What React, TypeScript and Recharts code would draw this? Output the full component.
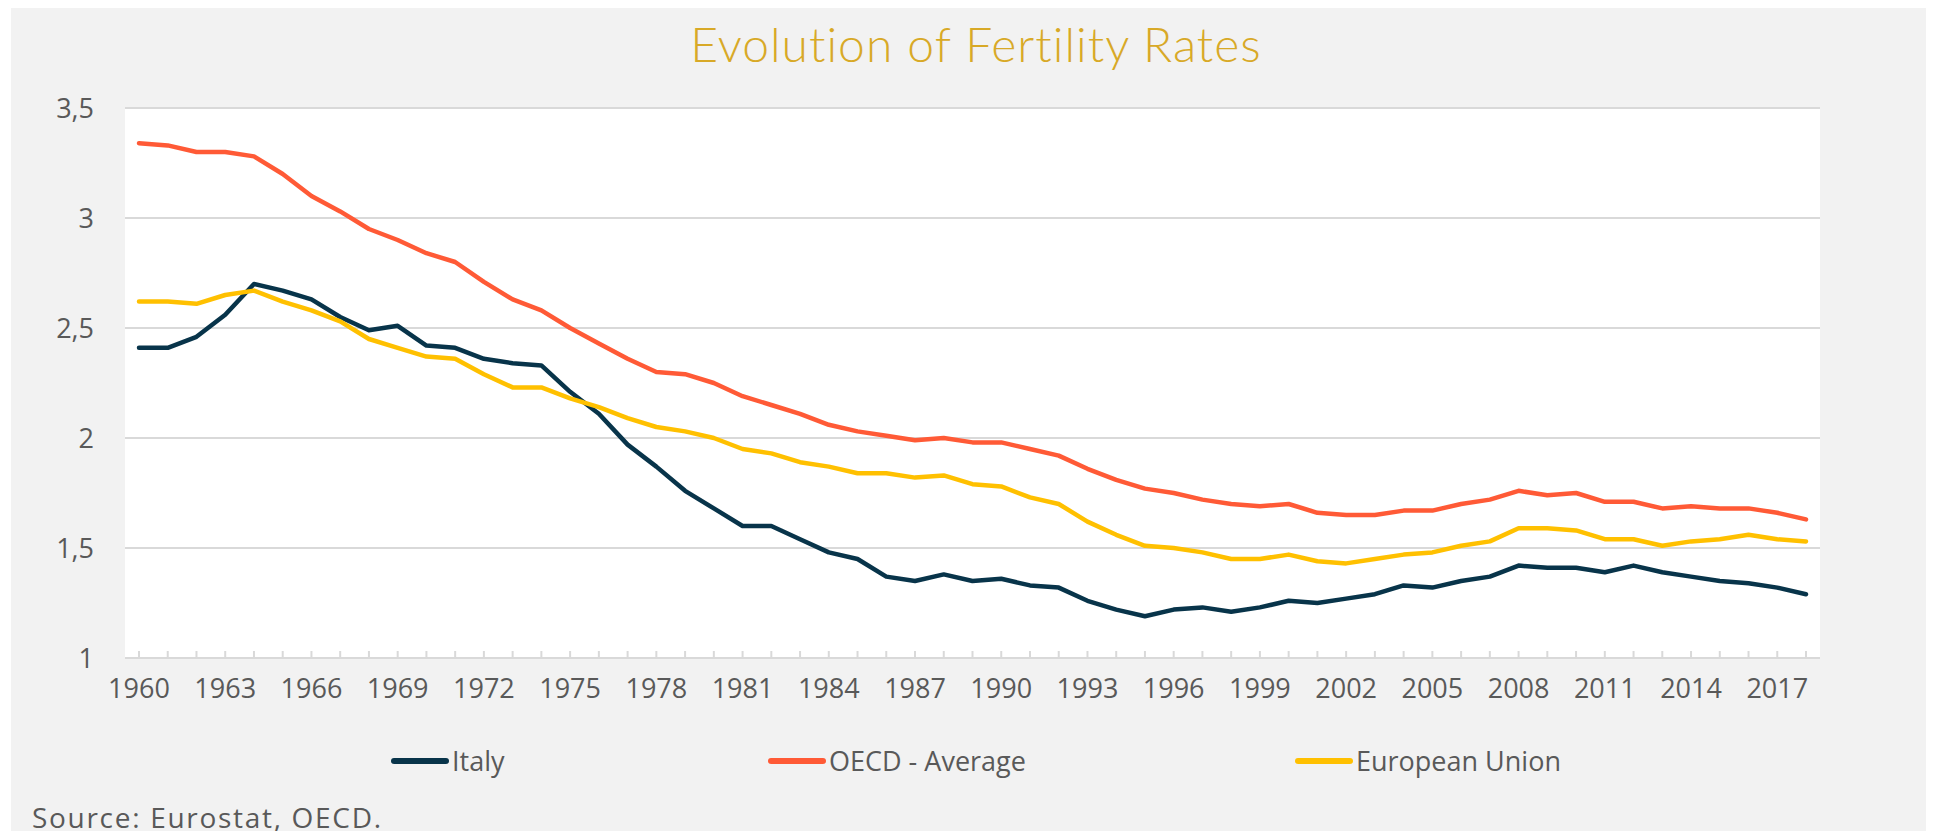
import React from "react";
import { LineChart, Line, XAxis, YAxis, CartesianGrid, Legend } from "recharts";

const years: number[] = [
  1960, 1961, 1962, 1963, 1964, 1965, 1966, 1967, 1968, 1969,
  1970, 1971, 1972, 1973, 1974, 1975, 1976, 1977, 1978, 1979,
  1980, 1981, 1982, 1983, 1984, 1985, 1986, 1987, 1988, 1989,
  1990, 1991, 1992, 1993, 1994, 1995, 1996, 1997, 1998, 1999,
  2000, 2001, 2002, 2003, 2004, 2005, 2006, 2007, 2008, 2009,
  2010, 2011, 2012, 2013, 2014, 2015, 2016, 2017, 2018,
];

const italy: number[] = [
  2.41, 2.41, 2.46, 2.56, 2.70, 2.67, 2.63, 2.55, 2.49, 2.51,
  2.42, 2.41, 2.36, 2.34, 2.33, 2.21, 2.11, 1.97, 1.87, 1.76,
  1.68, 1.60, 1.60, 1.54, 1.48, 1.45, 1.37, 1.35, 1.38, 1.35,
  1.36, 1.33, 1.32, 1.26, 1.22, 1.19, 1.22, 1.23, 1.21, 1.23,
  1.26, 1.25, 1.27, 1.29, 1.33, 1.32, 1.35, 1.37, 1.42, 1.41,
  1.41, 1.39, 1.42, 1.39, 1.37, 1.35, 1.34, 1.32, 1.29,
];

const oecd: number[] = [
  3.34, 3.33, 3.30, 3.30, 3.28, 3.20, 3.10, 3.03, 2.95, 2.90,
  2.84, 2.80, 2.71, 2.63, 2.58, 2.50, 2.43, 2.36, 2.30, 2.29,
  2.25, 2.19, 2.15, 2.11, 2.06, 2.03, 2.01, 1.99, 2.00, 1.98,
  1.98, 1.95, 1.92, 1.86, 1.81, 1.77, 1.75, 1.72, 1.70, 1.69,
  1.70, 1.66, 1.65, 1.65, 1.67, 1.67, 1.70, 1.72, 1.76, 1.74,
  1.75, 1.71, 1.71, 1.68, 1.69, 1.68, 1.68, 1.66, 1.63,
];

const eu: number[] = [
  2.62, 2.62, 2.61, 2.65, 2.67, 2.62, 2.58, 2.53, 2.45, 2.41,
  2.37, 2.36, 2.29, 2.23, 2.23, 2.18, 2.14, 2.09, 2.05, 2.03,
  2.00, 1.95, 1.93, 1.89, 1.87, 1.84, 1.84, 1.82, 1.83, 1.79,
  1.78, 1.73, 1.70, 1.62, 1.56, 1.51, 1.50, 1.48, 1.45, 1.45,
  1.47, 1.44, 1.43, 1.45, 1.47, 1.48, 1.51, 1.53, 1.59, 1.59,
  1.58, 1.54, 1.54, 1.51, 1.53, 1.54, 1.56, 1.54, 1.53,
];

const yTicks: number[] = [1, 1.5, 2, 2.5, 3, 3.5];

const seriesNames = ["Italy", "OECD - Average", "European Union"];
const seriesKeys = ["italy", "oecd", "eu"];
const seriesColors = ["#08344A", "#FF5A36", "#FFC000"];

const title = "Evolution of Fertility Rates";
const source = "Source: Eurostat, OECD.";

const data = years.map((y, i) => ({
  year: String(y),
  italy: italy[i],
  oecd: oecd[i],
  eu: eu[i],
}));

const TEXT = "#595959";
const GRID = "#D9D9D9";
const FONT = "'Open Sans', 'Noto Sans', sans-serif";

const legendLefts = [391, 768, 1295];

function XTick(props: any) {
  const { x, y, payload, index } = props;
  return (
    <g>
      <line x1={x} x2={x} y1={y - 7} y2={y} stroke={GRID} strokeWidth={2} />
      {index % 3 === 0 && (
        <text x={x} y={y + 40} textAnchor="middle" fontFamily={FONT} fontSize={27} fill={TEXT}>
          {payload.value}
        </text>
      )}
    </g>
  );
}

function LegendContent() {
  return (
    <div style={{ position: "relative", width: 1934, height: 40 }}>
      {seriesNames.map((name, i) => (
        <div
          key={name}
          style={{
            position: "absolute",
            left: legendLefts[i],
            top: 0,
            height: 40,
            display: "flex",
            alignItems: "center",
            whiteSpace: "nowrap",
          }}
        >
          <svg width={58} height={10} style={{ display: "block" }}>
            <line x1={3} x2={55} y1={5} y2={5} stroke={seriesColors[i]} strokeWidth={6} strokeLinecap="round" />
          </svg>
          <span
            style={{
              marginLeft: 3,
              fontFamily: FONT,
              fontSize: 27,
              lineHeight: "40px",
              color: TEXT,
            }}
          >
            {name}
          </span>
        </div>
      ))}
    </div>
  );
}

export default function App() {
  return (
    <div style={{ position: "relative", width: 1934, height: 839, margin: -8, background: "#fff", overflow: "hidden" }}>
      <div style={{ position: "absolute", left: 11, top: 6, width: 1923, height: 831, background: "#F2F2F2" }} />
      <div style={{ position: "absolute", left: 0, top: 0 }}>
        <LineChart width={1934} height={839} data={data} margin={{ top: 108, right: 114, bottom: 121, left: 65 }}>
          <CartesianGrid vertical={false} stroke={GRID} strokeWidth={2} fill="#FFFFFF" fillOpacity={1} />
          <XAxis
            dataKey="year"
            interval={0}
            padding={{ left: 14, right: 14 }}
            height={60}
            tickLine={false}
            tickSize={0}
            tickMargin={0}
            axisLine={{ stroke: GRID, strokeWidth: 2 }}
            tick={<XTick />}
          />
          <YAxis
            domain={[1, 3.5]}
            ticks={yTicks}
            width={60}
            axisLine={false}
            tickLine={false}
            tickSize={6}
            tickMargin={25}
            tickFormatter={(v: number) => String(v).replace(".", ",")}
            tick={{ fontFamily: FONT, fontSize: 27, fill: TEXT }}
          />
          {seriesKeys.map((k, i) => (
            <Line
              key={k}
              type="linear"
              dataKey={k}
              name={seriesNames[i]}
              stroke={seriesColors[i]}
              strokeWidth={4.5}
              strokeLinejoin="round"
              strokeLinecap="round"
              dot={false}
              activeDot={false}
              isAnimationActive={false}
            />
          ))}
          <Legend
            layout="horizontal"
            verticalAlign="middle"
            align="center"
            content={<LegendContent />}
            wrapperStyle={{ top: 741, left: 0, width: 1934, height: 40 }}
          />
          <text
            x={976}
            y={62}
            textAnchor="middle"
            fontFamily="Lato, sans-serif"
            fontWeight={300}
            fontSize={48}
            letterSpacing={1}
            fill="#D8A927"
          >
            {title}
          </text>
          <text x={32} y={828} fontFamily={FONT} fontSize={28} letterSpacing={1.7} fill={TEXT}>
            {source}
          </text>
        </LineChart>
      </div>
    </div>
  );
}
